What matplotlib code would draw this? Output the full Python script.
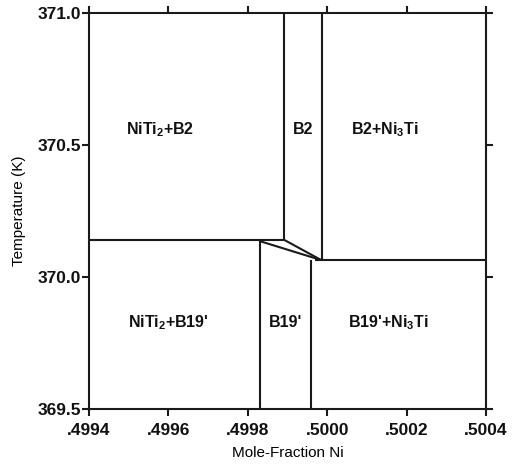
import matplotlib
matplotlib.use("Agg")
import matplotlib.pyplot as plt
from matplotlib.ticker import FuncFormatter

plt.rcParams['font.family'] = ['Liberation Sans', 'DejaVu Sans']
plt.rcParams['mathtext.default'] = 'regular'

# phase boundaries (mole fraction Ni, temperature K)
upper_left_x = [0.4994, 0.49989]
upper_left_y = [370.142, 370.142]
b2_left_x = [0.49989, 0.49989]
b2_left_y = [370.142, 371.0]
b2_right_x = [0.499987, 0.499987]
b2_right_y = [370.068, 371.0]
tie_upper_x = [0.49989, 0.499985]
tie_upper_y = [370.142, 370.064]
tie_lower_x = [0.49983, 0.499985]
tie_lower_y = [370.136, 370.064]
lower_right_x = [0.49997, 0.5004]
lower_right_y = [370.064, 370.064]
b19_left_x = [0.49983, 0.49983]
b19_left_y = [369.5, 370.136]
b19_right_x = [0.49996, 0.49996]
b19_right_y = [369.5, 370.064]

labels = ["NiTi$_2$+B2", "B2", "B2+Ni$_3$Ti", "NiTi$_2$+B19'", "B19'", "B19'+Ni$_3$Ti"]
label_x = [0.49958, 0.49994, 0.500145, 0.49960, 0.499894, 0.500155]
label_y = [370.56, 370.56, 370.56, 369.826, 369.826, 369.826]

xticks = [0.4994, 0.4996, 0.4998, 0.5000, 0.5002, 0.5004]
yticks = [369.5, 370.0, 370.5, 371.0]

fig = plt.figure(figsize=(5.15, 4.68), dpi=100)
ax = fig.add_axes([0.1728, 0.1261, 0.7709, 0.8461])

lw = 1.5
c = "#1a1a1a"
for xs, ys in [(upper_left_x, upper_left_y), (b2_left_x, b2_left_y),
               (b2_right_x, b2_right_y), (tie_upper_x, tie_upper_y),
               (tie_lower_x, tie_lower_y), (lower_right_x, lower_right_y),
               (b19_left_x, b19_left_y), (b19_right_x, b19_right_y)]:
    ax.plot(xs, ys, color=c, linewidth=lw, solid_capstyle="butt")

for t, x, y in zip(labels, label_x, label_y):
    ax.text(x, y, t, ha="center", va="center", fontsize=11.5,
            fontweight="bold", color="#111111")

ax.set_xlim(0.4994, 0.5004)
ax.set_ylim(369.5, 371.0)
ax.set_xticks(xticks)
ax.set_yticks(yticks)
ax.xaxis.set_major_formatter(FuncFormatter(lambda v, p: ("%.4f" % v).lstrip("0")))
ax.yaxis.set_major_formatter(FuncFormatter(lambda v, p: "%.1f" % v))
ax.tick_params(direction="out", length=5, width=lw, color=c,
               top=True, right=True, labelsize=12.5, labelcolor="#111111")
ax.tick_params(axis="x", pad=5)
ax.tick_params(axis="y", pad=1)
for lab in ax.get_xticklabels() + ax.get_yticklabels():
    lab.set_fontweight("bold")
for s in ax.spines.values():
    s.set_linewidth(lw)
    s.set_color(c)

ax.set_xlabel("Mole-Fraction Ni", fontsize=11, labelpad=6)
ax.set_ylabel("Temperature (K)", fontsize=11, labelpad=8)

fig.savefig("out.png", dpi=100)
